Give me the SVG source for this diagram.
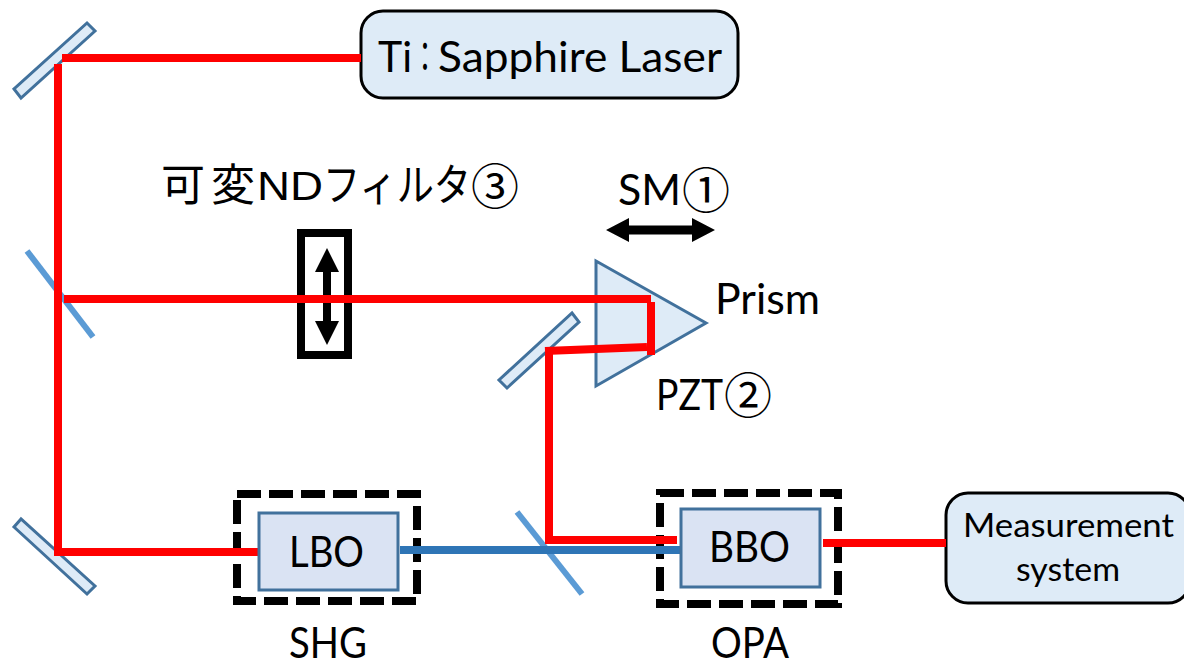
<svg xmlns="http://www.w3.org/2000/svg" width="1184" height="663" viewBox="0 0 1184 663">
<style>
text{font-family:"Lato","Noto Sans","Noto Sans CJK JP",sans-serif;fill:#000}
.t{font-size:43px}
.j{font-family:"Noto Sans CJK JP",sans-serif}
.c{font-family:"Noto Sans CJK JP",sans-serif;font-size:48px}
.l{font-family:"Liberation Sans",sans-serif;font-size:40px}
.mir{fill:#deebf7;stroke:#41719c;stroke-width:3}
.split{fill:none;stroke:#5b9bd5;stroke-width:6}
.box{fill:#dae3f3;stroke:#41719c;stroke-width:3}
.dash{fill:none;stroke:#000;stroke-width:8;stroke-dasharray:24 8}
.term{fill:#deebf7;stroke:#000;stroke-width:3}
.red{fill:none;stroke:#f00;stroke-width:8}
.blue{fill:none;stroke:#2e75b6;stroke-width:8}
</style>
<g id="mirror-top"><polygon class="mir" points="87,23 95,31 21,98 14,89"/></g>
<g id="mirror-bottom"><polygon class="mir" points="21,519 14,527 87,594 95,586"/></g>
<g id="splitter-1"><line class="split" x1="27" y1="251" x2="93" y2="337"/></g>
<g id="splitter-2"><line class="split" x1="517" y1="512" x2="582" y2="594"/></g>
<g id="mirror-prism"><polygon class="mir" points="572,313 579,322 507,388 499,380"/></g>
<g id="prism"><polygon class="mir" points="596,261 706,323 596,386"/><text class="t" x="715" y="314" textLength="105" lengthAdjust="spacingAndGlyphs">Prism</text></g>
<g id="laser"><rect class="term" x="361" y="11" width="377" height="87" rx="22"/><text class="t" y="72"><tspan x="378" textLength="34" lengthAdjust="spacingAndGlyphs">Ti</tspan><tspan class="j" x="412" font-size="42" textLength="26" lengthAdjust="spacingAndGlyphs">：</tspan><tspan x="438" textLength="284" lengthAdjust="spacingAndGlyphs">Sapphire Laser</tspan></text></g>
<g id="measurement"><rect class="term" x="946" y="493" width="244" height="110" rx="22"/><text x="963" y="537" font-size="33" textLength="211" lengthAdjust="spacingAndGlyphs">Measurement</text><text x="1016" y="581" font-size="33" textLength="104" lengthAdjust="spacingAndGlyphs">system</text></g>
<g id="shg"><rect class="dash" x="237" y="494" width="180" height="107"/><text class="t" x="289" y="658" textLength="78" lengthAdjust="spacingAndGlyphs">SHG</text></g>
<g id="opa"><rect class="dash" x="660" y="493" width="178" height="111"/><text class="t" x="711" y="658" textLength="78" lengthAdjust="spacingAndGlyphs">OPA</text></g>
<g id="nd-filter"><rect x="301" y="233" width="47" height="122" fill="#fff" stroke="#000" stroke-width="8"/><path d="M327 248l12 24h-8v49h8l-12 24-12-24h8v-49h-8z" fill="#000"/><text class="j" y="201" font-size="44"><tspan x="161">可</tspan><tspan x="211">変</tspan><tspan class="l" x="257" y="200" textLength="66" lengthAdjust="spacingAndGlyphs">ND</tspan><tspan x="323" y="201" textLength="148" lengthAdjust="spacingAndGlyphs">フィルタ</tspan><tspan class="c" x="471" y="204">③</tspan></text></g>
<g id="sm"><path d="M606 230l23-12v7.500h63v-7.500l23 12-23 12v-7.500h-63v7.500z" fill="#000"/><text class="t" y="205"><tspan x="618" textLength="63" lengthAdjust="spacingAndGlyphs">SM</tspan><tspan class="c" x="682" y="208">①</tspan></text></g>
<g id="pzt"><text class="t" y="410"><tspan x="656" textLength="67" lengthAdjust="spacingAndGlyphs">PZT</tspan><tspan class="c" x="724" y="413">②</tspan></text></g>
<g id="connectors">
<path class="blue" d="M400 550H681"/>
<path class="red" d="M62 58H361"/>
<path class="red" d="M58 64V555"/>
<path class="red" d="M54 552H259"/>
<path class="red" d="M64 299H651"/>
<path class="red" d="M651 302V355"/>
<path class="red" d="M647 347L545 351"/>
<path class="red" d="M549 347V544"/>
<path class="red" d="M545 540H677"/>
<path class="red" d="M823 543H946"/>
</g>
<g id="lbo"><rect class="box" x="259" y="513" width="139" height="77"/><text class="t" x="289" y="567" textLength="75" lengthAdjust="spacingAndGlyphs">LBO</text></g>
<g id="bbo"><rect class="box" x="681" y="509" width="139" height="78"/><text class="t" x="709" y="562" textLength="81" lengthAdjust="spacingAndGlyphs">BBO</text></g>
</svg>
